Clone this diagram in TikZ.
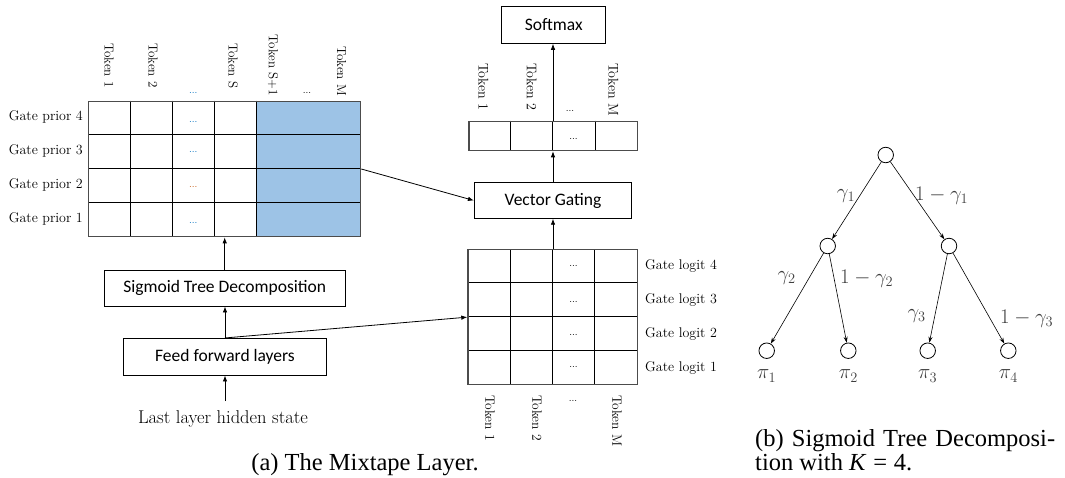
\documentclass[tikz,border=0pt]{standalone}
\usepackage{fontspec}
\usetikzlibrary{arrows.meta}
\newfontfamily\boxfont{Carlito}
\newfontfamily\capfont{Liberation Serif}
\definecolor{priorblue}{RGB}{157,195,230}
\definecolor{dotblue}{RGB}{0,112,192}
\definecolor{dotred}{RGB}{197,90,17}
\definecolor{treegray}{RGB}{62,62,62}
\begin{document}
\begin{tikzpicture}[x=1pt,y=-1pt,
  box/.style={draw, line width=0.8pt, inner sep=0, font=\boxfont\fontsize{17.5}{20}\selectfont},
  gridbox/.style={draw=black!70, line width=1.3pt, inner sep=0, anchor=north west},
  gridline/.style={draw=black, line width=1pt},
  arr/.style={-{Latex[length=6pt,width=4.5pt]}, line width=0.8pt},
  glabel/.style={font=\fontsize{14}{16}\selectfont, inner sep=0},
  tokl/.style={rotate=-90, inner sep=0, font=\fontsize{13}{15}\selectfont},
  tokr/.style={rotate=-90, inner sep=0, font=\fontsize{14}{16}\selectfont},
  dotsl/.style={inner sep=0, anchor=base, font=\fontsize{10}{12}\selectfont},
  circ/.style={circle, draw, line width=0.8pt, minimum size=15.5pt, inner sep=0},
  tarr/.style={-{Stealth[length=6pt,width=4pt]}, line width=0.6pt},
  tl/.style={text=treegray, font=\fontsize{19.5}{21}\selectfont, inner sep=0},
  capt/.style={inner sep=0, font=\capfont\fontsize{24.5}{26}\selectfont}
]
\useasboundingbox (0,0) rectangle (1065,477);

% ---------- Gate prior grid ----------
\fill[priorblue] (256.7,100.7) rectangle (360,236);
\foreach \x in {130,172.3,214.3,256.7} \draw[gridline] (\x,100.7) -- (\x,236);
\foreach \y in {134.7,168.3,202.3} \draw[gridline] (88,\y) -- (360,\y);
\node[gridbox, minimum width=272pt, minimum height=135.3pt] (prior) at (88,100.7) {};

\node[glabel, anchor=base east] (gp4) at (83,120) {Gate prior 4};
\node[glabel, anchor=base east] (gp3) at (83,154) {Gate prior 3};
\node[glabel, anchor=base east] (gp2) at (83,188) {Gate prior 2};
\node[glabel, anchor=base east] (gp1) at (83,222) {Gate prior 1};

\node[dotsl, text=dotblue] (pd4) at (193.3,122.5) {...};
\node[dotsl, text=dotblue] (pd3) at (193.3,152) {...};
\node[dotsl, text=dotred]  (pd2) at (193.3,187.5) {...};
\node[dotsl, text=dotblue] (pd1) at (193.3,223.5) {...};
\node[dotsl, text=dotblue] (pdh) at (193.3,93.5) {...};
\node[dotsl] (pdh2) at (307,93.5) {...};

\node[tokl, anchor=west] (pt1) at (109,43) {Token 1};
\node[tokl, anchor=west] (pt2) at (153,43) {Token 2};
\node[tokl, anchor=west] (pts) at (233,43) {Token S};
\node[tokl, anchor=east] (pts1) at (273,96) {Token S+1};
\node[tokl, anchor=east] (ptm) at (341.5,96) {Token M};

% ---------- Softmax and top vector ----------
\node[box, minimum width=104pt, minimum height=37.3pt] (soft) at (553.7,24.7) {Softmax};

\node[tokr, anchor=west] (vt1) at (483.3,63) {Token 1};
\node[tokr, anchor=west] (vt2) at (531.7,63) {Token 2};
\node[tokr, anchor=west] (vtm) at (613.3,63) {Token M};
\node[dotsl] (vdh) at (570,111) {...};

\fill[white] (468.3,120.7) rectangle (636.7,150);
\foreach \x in {510.7,552.7,595} \draw[gridline] (\x,120.7) -- (\x,150);
\node[gridbox, minimum width=168.4pt, minimum height=29.3pt] (vec) at (468.3,120.7) {};
\node[dotsl] (vd) at (573.5,139) {...};

% ---------- Vector Gating ----------
\node[box, minimum width=157.4pt, minimum height=35.6pt] (vg) at (553,200.5) {Vector Gating};

% ---------- Gate logit grid ----------
\foreach \x in {510.3,552.3,594.7} \draw[gridline] (\x,249) -- (\x,384);
\foreach \y in {282.7,316.7,350.3} \draw[gridline] (467.3,\y) -- (636.7,\y);
\node[gridbox, minimum width=169.4pt, minimum height=135pt] (logit) at (467.3,249) {};

\node[dotsl] (ld4) at (573.5,266) {...};
\node[dotsl] (ld3) at (573.5,302.5) {...};
\node[dotsl] (ld2) at (573.5,335) {...};
\node[dotsl] (ld1) at (573.5,367.5) {...};

\node[glabel, anchor=base west] (gl4) at (645,269) {Gate logit 4};
\node[glabel, anchor=base west] (gl3) at (645,303) {Gate logit 3};
\node[glabel, anchor=base west] (gl2) at (645,337) {Gate logit 2};
\node[glabel, anchor=base west] (gl1) at (645,371) {Gate logit 1};

\node[tokr, anchor=west, font=\fontsize{13.5}{15}\selectfont] (lt1) at (490,395) {Token 1};
\node[tokr, anchor=west, font=\fontsize{13.5}{15}\selectfont] (lt2) at (537,395) {Token 2};
\node[tokr, anchor=west, font=\fontsize{13.5}{15}\selectfont] (ltm) at (617,395) {Token M};
\node[dotsl] (ldh) at (573,401) {...};

% ---------- Left boxes ----------
\node[box, minimum width=240.7pt, minimum height=36pt] (std) at (224.7,288) {Sigmoid Tree Decomposition};
\node[box, minimum width=203.4pt, minimum height=36.7pt] (ff) at (225,356.7) {Feed forward layers};
\node[inner sep=0, outer ysep=9pt, anchor=base, font=\fontsize{18.5}{20}\selectfont] (hidden) at (223,423) {Last layer hidden state};

% ---------- connectors ----------
\draw[arr] (ff.south |- hidden.north) -- (ff.south);
\draw[arr] (ff.north) -- (ff.north |- std.south);
\draw[arr] (std.north) -- (std.north |- prior.south);
\draw[arr] (ff.north) -- (logit.west);
\draw[arr] (prior.east) -- (vg.west);
\draw[arr] (logit.north -| vg.south) -- (vg.south);
\draw[arr] (vg.north) -- (vg.north |- vec.south);
\draw[arr] (vec.north -| vg.north) -- (vg.north |- soft.south);

% ---------- tree ----------
\node[circ] (r) at (885.7,155) {};
\node[circ] (a) at (827.7,246) {};
\node[circ] (b) at (949,246) {};
\node[circ] (l1) at (766.7,350.7) {};
\node[circ] (l2) at (848.3,350.7) {};
\node[circ] (l3) at (927.7,350.7) {};
\node[circ] (l4) at (1008.3,350.7) {};
\draw[tarr] (r) -- (a);
\draw[tarr] (r) -- (b);
\draw[tarr] (a) -- (l1);
\draw[tarr] (a) -- (l2);
\draw[tarr] (b) -- (l3);
\draw[tarr] (b) -- (l4);
\node[tl] (g1) at (846,196) {$\gamma_1$};
\node[tl] (g1c) at (941.7,196) {$1-\gamma_1$};
\node[tl] (g2) at (786.7,278) {$\gamma_2$};
\node[tl] (g2c) at (866.7,279) {$1-\gamma_2$};
\node[tl] (g3) at (916.7,316) {$\gamma_3$};
\node[tl] (g3c) at (1026.7,319) {$1-\gamma_3$};
\node[tl] (p1) at (766.7,376) {$\pi_1$};
\node[tl] (p2) at (848.3,376) {$\pi_2$};
\node[tl] (p3) at (927.7,376) {$\pi_3$};
\node[tl] (p4) at (1008.3,376) {$\pi_4$};

% ---------- captions ----------
\node[capt, anchor=base] (capa) at (365,470) {(a) The Mixtape Layer.};
\node[capt, anchor=base west] (capb1) at (755,446) {\makebox[300pt][s]{(b) Sigmoid Tree Decomposi-}};
\node[capt, anchor=base west] (capb2) at (755,470) {tion with \textit{K}\;=\;4.};
\end{tikzpicture}
\end{document}
